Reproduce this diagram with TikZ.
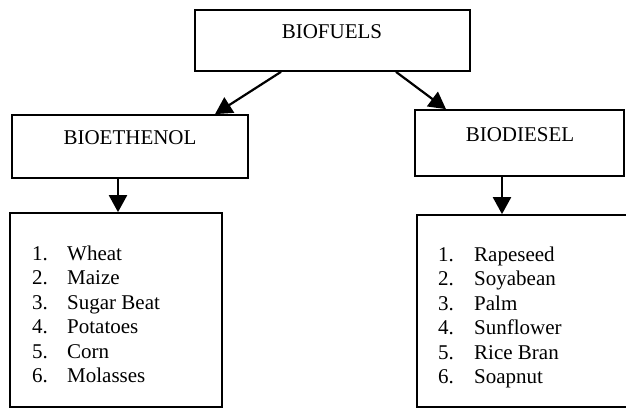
\documentclass[tikz,border=0pt]{standalone}
\usepackage{fontspec}
\setmainfont{Liberation Serif}
\usetikzlibrary{arrows.meta}
\begin{document}
\begin{tikzpicture}[x=1pt,y=-1pt,
  box/.style={draw=black,line width=1.7pt,inner sep=0pt},
  lbl/.style={font=\fontsize{21}{24.5}\selectfont,inner sep=0pt},
  lst/.style={font=\fontsize{21}{24.5}\selectfont,inner sep=0pt,align=left,anchor=west},
  arr/.style={line width=2.2pt,-{Triangle[length=17pt,width=18pt]}}]
\useasboundingbox (0,0) rectangle (626,408);
% boxes
\node[box,minimum width=275,minimum height=61] (bf) at (332.5,40.5) {};
\node[box,minimum width=236,minimum height=63] (be) at (130,146.5) {};
\node[box,minimum width=209,minimum height=66] (bd) at (519.5,143) {};
\node[box,minimum width=212,minimum height=194] (l1) at (116,310) {};
\node[box,minimum width=215,minimum height=192] (l2) at (524.5,311) {};
% texts
\node[lbl] (tbf) at (332,32) {BIOFUELS};
\node[lbl] (tbe) at (130,138) {BIOETHENOL};
\node[lbl] (tbd) at (520,135) {BIODIESEL};
\node[lst] (t1) at (32,314.5) {\makebox[35pt][l]{1.}Wheat\\ \makebox[35pt][l]{2.}Maize\\ \makebox[35pt][l]{3.}Sugar Beat\\ \makebox[35pt][l]{4.}Potatoes\\ \makebox[35pt][l]{5.}Corn\\ \makebox[35pt][l]{6.}Molasses};
\node[lst] (t2) at (438,317.5) {\makebox[36pt][l]{1.}Rapeseed\\ \makebox[36pt][l]{2.}Soyabean\\ \makebox[36pt][l]{3.}Palm\\ \makebox[36pt][l]{4.}Sunflower\\ \makebox[36pt][l]{5.}Rice Bran\\ \makebox[36pt][l]{6.}Soapnut};
% connectors
\coordinate (a1s) at (281,71);
\coordinate (a1e) at (215,115);
\coordinate (a2s) at (396,71);
\coordinate (a2e) at (446,110);
\draw[arr] (bf.south -| a1s) -- (be.north -| a1e);
\draw[arr] (bf.south -| a2s) -- (bd.north -| a2e);
\draw[arr] (be.south -| 118,0) -- (l1.north -| 118,0);
\draw[arr] (bd.south -| 502,0) -- (l2.north -| 502,0);
\end{tikzpicture}
\end{document}
